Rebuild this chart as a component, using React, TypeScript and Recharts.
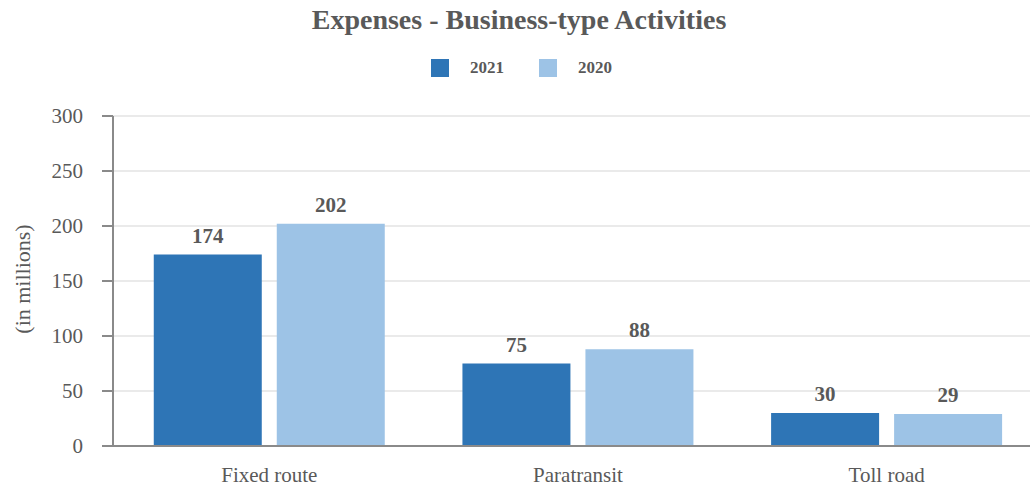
import React from "react";
import {
  Bar,
  BarChart,
  CartesianGrid,
  LabelList,
  XAxis,
  YAxis,
} from "recharts";

const categories = ["Fixed route", "Paratransit", "Toll road"];
const values2021 = [174, 75, 30];
const values2020 = [202, 88, 29];
const yTicks = [0, 50, 100, 150, 200, 250, 300];

const FONT = "'Liberation Serif', 'Times New Roman', serif";
const TEXT = "#595959";
const DARK = "#2E75B6";
const LIGHT = "#9DC3E6";

const data = categories.map((name, i) => ({
  name,
  y2021: values2021[i],
  y2020: values2020[i],
}));

const YLabel = () => (
  <text
    x={22}
    y={279}
    transform="rotate(-90 22 279)"
    textAnchor="middle"
    dominantBaseline="central"
    fill={TEXT}
    fontSize={22}
    fontFamily={FONT}
  >
    (in millions)
  </text>
);

const LegendItem = ({ color, label }: { color: string; label: string }) => (
  <div style={{ display: "flex", alignItems: "center", marginRight: 35 }}>
    <div style={{ width: 18, height: 18, background: color, marginRight: 21 }} />
    <span style={{ fontWeight: "bold", fontSize: 17, color: TEXT }}>{label}</span>
  </div>
);

export default function App() {
  return (
    <div
      style={{
        position: "absolute",
        left: 0,
        top: 0,
        width: 1030,
        height: 487,
        overflow: "hidden",
        background: "#fff",
        fontFamily: FONT,
      }}
    >
      <div
        style={{
          position: "absolute",
          top: 4,
          left: 0,
          width: 1038,
          textAlign: "center",
          fontWeight: "bold",
          fontSize: 28,
          color: TEXT,
        }}
      >
        Expenses - Business-type Activities
      </div>
      <div
        style={{
          position: "absolute",
          top: 58,
          left: 431,
          display: "flex",
        }}
      >
        <LegendItem color={DARK} label="2021" />
        <LegendItem color={LIGHT} label="2020" />
      </div>
      <BarChart
        width={1041}
        height={487}
        data={data}
        margin={{ top: 116, right: 0, bottom: 0, left: 0 }}
        barCategoryGap="12.56%"
        barGap={15}
      >
        <CartesianGrid vertical={false} stroke="#e3e3e3" strokeWidth={1.5} />
        <XAxis
          dataKey="name"
          height={41}
          padding={{ left: 2 }}
          tickLine={false}
          tickSize={0}
          tickMargin={21}
          axisLine={{ stroke: "#8a8a8a", strokeWidth: 2 }}
          tick={{ fill: TEXT, fontSize: 21, fontFamily: FONT }}
        />
        <YAxis
          width={113}
          domain={[0, 300]}
          ticks={yTicks}
          interval={0}
          tickSize={11}
          tickMargin={19}
          tickLine={{ stroke: "#8a8a8a", strokeWidth: 2 }}
          axisLine={{ stroke: "#8a8a8a", strokeWidth: 2 }}
          tick={{ fill: TEXT, fontSize: 21, fontFamily: FONT }}
          label={{ content: () => <YLabel /> }}
        />
        <Bar dataKey="y2021" fill={DARK} isAnimationActive={false}>
          <LabelList
            dataKey="y2021"
            position="top"
            offset={12}
            fill={TEXT}
            fontSize={21}
            fontWeight="bold"
            fontFamily={FONT}
          />
        </Bar>
        <Bar dataKey="y2020" fill={LIGHT} isAnimationActive={false}>
          <LabelList
            dataKey="y2020"
            position="top"
            offset={12}
            fill={TEXT}
            fontSize={21}
            fontWeight="bold"
            fontFamily={FONT}
          />
        </Bar>
      </BarChart>
    </div>
  );
}
